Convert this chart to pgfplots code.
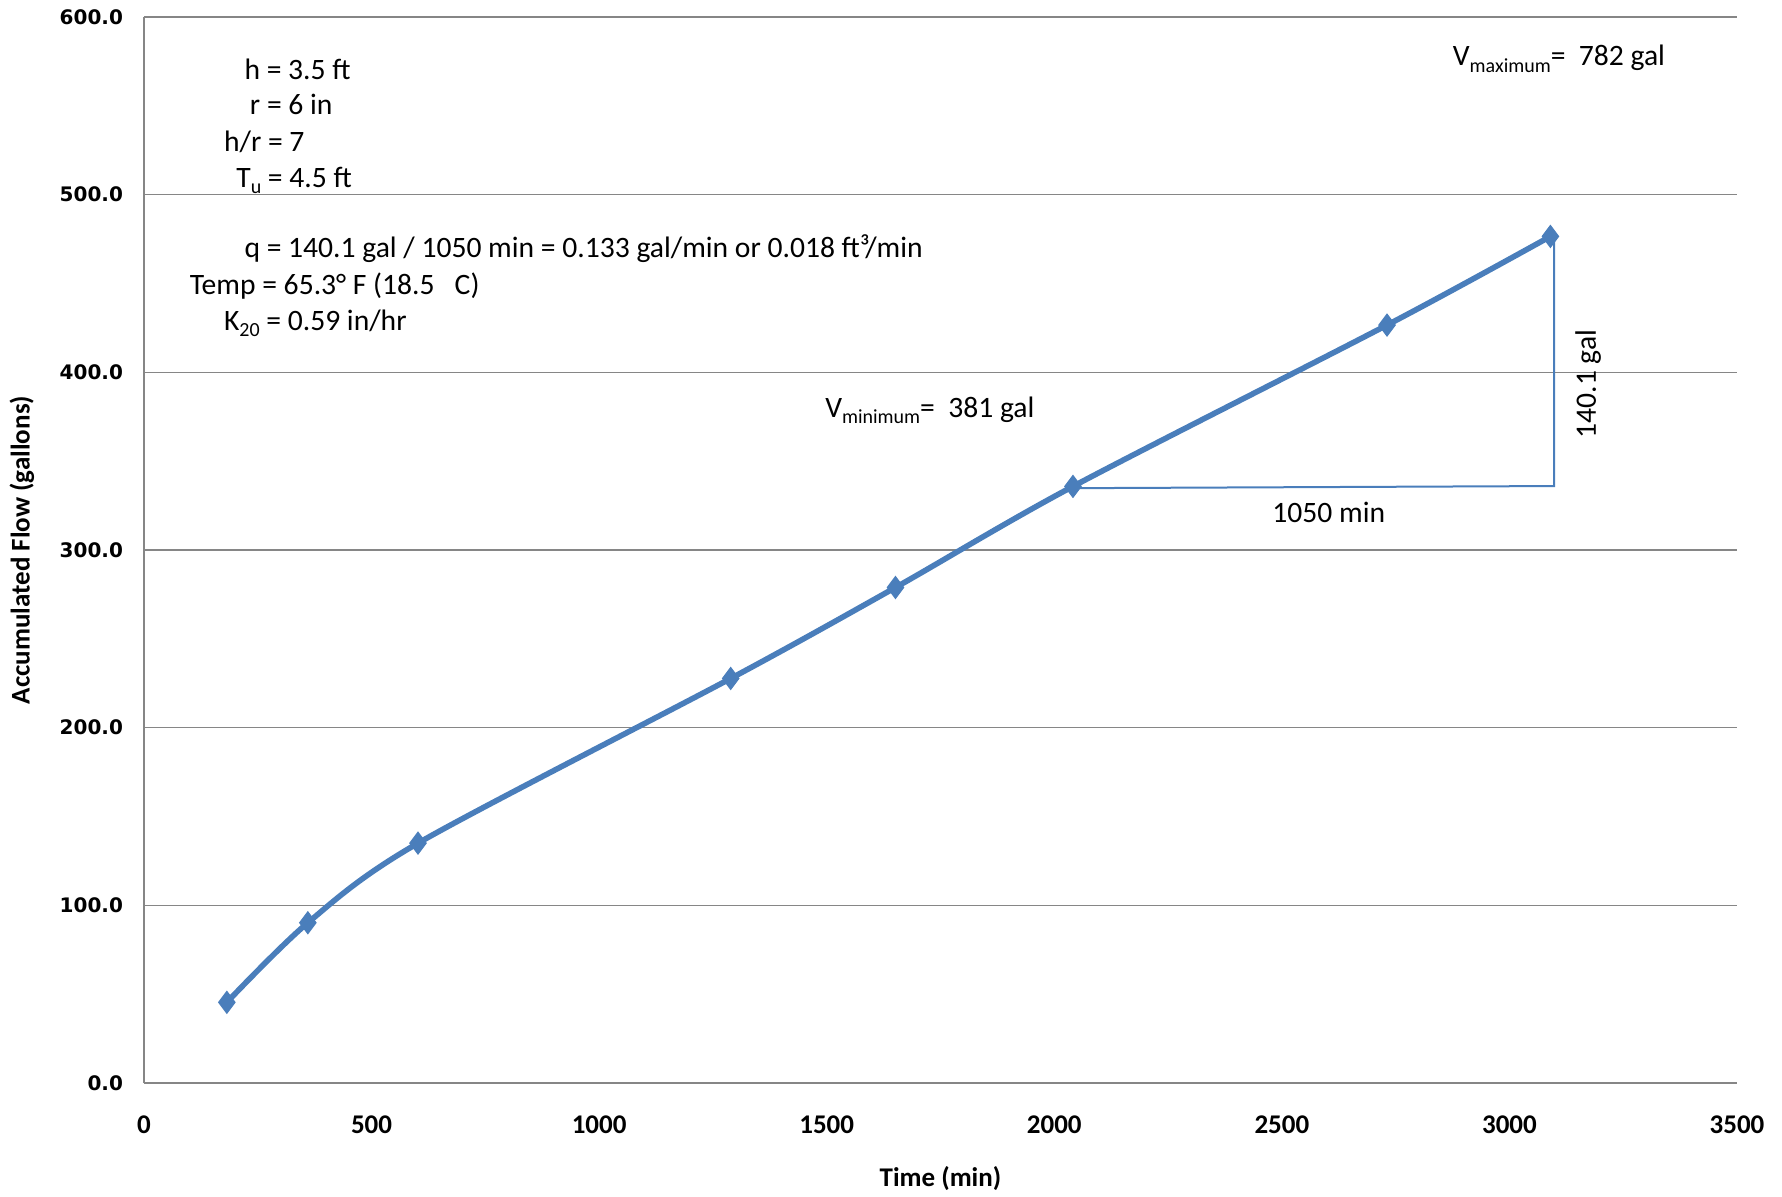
\documentclass[border=0pt]{standalone}
\usepackage{pgfplots}
\pgfplotsset{compat=1.18}
\usepackage{fontspec}
\setmainfont{Carlito}
\newfontfamily\dejavu{DejaVu Sans}
\definecolor{exblue}{HTML}{4A7EBB}
\definecolor{exgrid}{HTML}{868686}
\newcommand{\sub}[1]{\raisebox{-0.45ex}{\fontsize{10}{12}\selectfont #1}}
\begin{document}
\begin{tikzpicture}
\useasboundingbox (-72pt,-56.5pt) rectangle (819pt,541.5pt);
\begin{axis}[
  at={(0,0)}, anchor=south west,
  width=796.5pt, height=533pt, scale only axis,
  xmin=0, xmax=3500, ymin=0, ymax=600,
  xtick={0,500,...,3500}, ytick={0,100,...,600},
  axis x line*=bottom, axis y line*=left,
  axis line style={-, draw=exgrid, line width=1pt},
  ymajorgrids, major grid style={draw=exgrid, line width=0.75pt},
  tick style={draw=none},
  /pgf/number format/assume math mode=true,
  xticklabel style={font=\fontsize{13.5}{15}\selectfont\bfseries, /pgf/number format/1000 sep={}, yshift=-13pt},
  yticklabel style={font=\dejavu\bfseries\fontsize{10}{12}\selectfont, /pgf/number format/fixed, /pgf/number format/fixed zerofill, /pgf/number format/precision=1, xshift=-7pt},
  xlabel={Time (min)}, ylabel={Accumulated Flow (gallons)},
  every axis x label/.style={at={(axis description cs:0.5,0)}, yshift=-48pt, anchor=center, font=\fontsize{13.5}{15}\selectfont\bfseries},
  every axis y label/.style={at={(axis description cs:0,0.5)}, xshift=-61pt, rotate=90, anchor=center, font=\fontsize{13.5}{15}\selectfont\bfseries},
  clip=false,
]
\addplot[exblue, line width=2.8pt, smooth, mark=diamond*, mark size=5.5pt, mark options={fill=exblue, draw=exblue, line width=0.5pt}] coordinates {
  (182,45.4) (360,90.2) (602,135.0) (1289,227.7) (1651,278.9) (2041,335.8) (2731,426.6) (3090,476.5)
};
\addplot[exblue, line width=1pt] coordinates {(2041,334.8) (3098,336.0) (3098,476.5)};
\begin{scope}[every node/.style={font=\fontsize{14.8}{18}\selectfont, inner sep=0pt}]
\node[anchor=base west] at (axis cs:220,564.8) {h = 3.5 ft};
\node[anchor=base west] at (axis cs:232,545.0) {r = 6 in};
\node[anchor=base west] at (axis cs:175,524.5) {h/r = 7};
\node[anchor=base west] at (axis cs:202,504.1) {T\sub{u} = 4.5 ft};
\node[anchor=base west] at (axis cs:220,464.4) {q = 140.1 gal / 1050 min = 0.133 gal/min or 0.018 ft³/min};
\node[anchor=base west] at (axis cs:100,443.9) {Temp = 65.3° F (18.5 \ \ C)};
\node[anchor=base west] at (axis cs:175,423.5) {K\sub{20} = 0.59 in/hr};
\node[anchor=base west] at (axis cs:2875,572.5) {V\sub{maximum}= \ 782 gal};
\node[anchor=base west] at (axis cs:1496,374.8) {V\sub{minimum}= \ 381 gal};
\node[anchor=base] at (axis cs:2603,315.4) {1050 min};
\node[rotate=90, anchor=center] at (axis cs:3173,393.4) {140.1 gal};
\end{scope}
\end{axis}
\end{tikzpicture}
\end{document}
